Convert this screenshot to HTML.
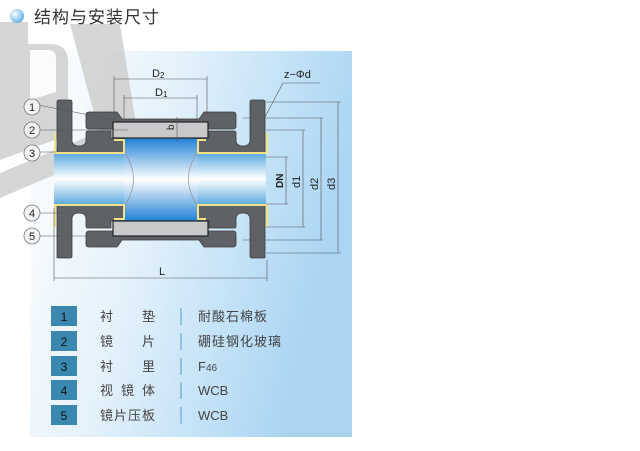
<!DOCTYPE html>
<html><head><meta charset="utf-8"><style>
body{margin:0;width:640px;height:446px;background:#fff;overflow:hidden;font-family:"Liberation Sans","Noto Sans CJK SC",sans-serif}
</style></head><body>
<svg width="640" height="446" viewBox="0 0 640 446" xmlns="http://www.w3.org/2000/svg" font-family="Liberation Sans, Noto Sans CJK SC, sans-serif">
<defs>
<linearGradient id="bg" x1="0" x2="1" y1="0" y2="0.3">
<stop offset="0" stop-color="#ffffff"/><stop offset="0.45" stop-color="#e3f1fb"/><stop offset="1" stop-color="#a9d5f3"/></linearGradient>
<linearGradient id="tube" x1="0" x2="0" y1="0" y2="1">
<stop offset="0" stop-color="#5aa8de"/><stop offset="0.5" stop-color="#ffffff"/><stop offset="1" stop-color="#5aa8de"/></linearGradient>
<linearGradient id="mid" x1="0" x2="0" y1="0" y2="1">
<stop offset="0" stop-color="#1f80d6"/><stop offset="0.5" stop-color="#ffffff"/><stop offset="1" stop-color="#1f80d6"/></linearGradient>
<radialGradient id="ball" cx="0.35" cy="0.35" r="0.7"><stop offset="0" stop-color="#ffffff"/><stop offset="1" stop-color="#5eb0e6"/></radialGradient>
</defs>
<rect x="30" y="51" width="322" height="386" fill="url(#bg)"/>
<!-- watermark -->
<g fill="#cfcfcf" opacity="0.85">
<path d="M70,24 L120,24 L137,130 Q138,142 126,142 L110,142 Q100,142 99,132 Z"/>
<path d="M0,173 L130,119 L136,140 L0,198 Z"/>
<path d="M0,22 L28,22 L28,44 L50,44 Q68,44 68,62 L68,135 L0,160 Z"/>
</g>
<path d="M30,50 L48,50 Q56,50 56,58 L56,92 L30,100 Z" fill="#ffffff" opacity="0.9"/>
<!-- title -->
<circle cx="17" cy="16" r="7" fill="url(#ball)"/>
<text x="34" y="23" font-size="17" fill="#333" letter-spacing="1">结构与安装尺寸</text>

<!-- tube -->
<rect x="54" y="153" width="212" height="52" fill="url(#tube)"/>
<rect x="124" y="138" width="74" height="83" fill="url(#mid)"/>
<path d="M125,153 Q142,179 125,205" fill="none" stroke="#888" stroke-width="0.6"/>
<path d="M197,153 Q180,179 197,205" fill="none" stroke="#888" stroke-width="0.6"/>

<g fill="#5e6166" stroke="#3c3c3c" stroke-width="0.8">
<path d="M57,102 Q57,100 59,100 L70,100 Q72,100 72,102 L72,140 Q72,146 79,146 Q86,146 86,140 L86,133 Q86,131 88,131 L111,131 L111,138 L124,138 L124,153 L57,153 Z"/>
<path d="M57,258 L57,205 L124,205 L124,221 L111,221 L111,228 L88,228 Q86,228 86,226 L86,219 Q86,213 79,213 Q72,213 72,219 L72,256 Q72,258 70,258 L59,258 Q57,258 57,256 Z"/>
<path d="M265,102 Q265,100 263,100 L252,100 Q250,100 250,102 L250,140 Q250,146 243,146 Q236,146 236,140 L236,133 Q236,131 234,131 L209,131 L209,138 L198,138 L198,153 L265,153 Z"/>
<path d="M265,258 L265,205 L198,205 L198,221 L209,221 L209,228 L234,228 Q236,228 236,226 L236,219 Q236,213 243,213 Q250,213 250,219 L250,256 Q250,258 252,258 L263,258 Q265,258 265,256 Z"/>
<path d="M89,112 L117,112 L122,119 L199,119 L204,112 L233,112 Q236,112 236,115 L236,126 Q236,129 233,129 L89,129 Q86,129 86,126 L86,115 Q86,112 89,112 Z"/>
<path d="M89,247 L117,247 L122,240 L199,240 L204,247 L233,247 Q236,247 236,244 L236,234 Q236,231 233,231 L89,231 Q86,231 86,234 L86,244 Q86,247 89,247 Z"/>
</g>
<rect x="113" y="122" width="95" height="16" fill="#c8c9cb" stroke="#222" stroke-width="1.2"/>
<rect x="113" y="221" width="95" height="15" fill="#c8c9cb" stroke="#222" stroke-width="1.2"/>
<g fill="none" stroke="#f2e38a" stroke-width="2">
<path d="M55,133 L55,153 L124,153 L124,140 L114,140"/>
<path d="M267,133 L267,153 L198,153 L198,140 L206,140"/>
<path d="M55,227 L55,205 L124,205 L124,219 L114,219"/>
<path d="M267,227 L267,205 L198,205 L198,219 L206,219"/>
</g>

<g stroke="#555" stroke-width="0.6" fill="none">
<line x1="114" y1="79" x2="207" y2="79"/><line x1="114" y1="76" x2="114" y2="115"/><line x1="207" y1="76" x2="207" y2="115"/>
<line x1="124" y1="98" x2="197" y2="98"/><line x1="124" y1="95" x2="124" y2="120"/><line x1="197" y1="95" x2="197" y2="120"/>
<line x1="177" y1="117" x2="177" y2="142"/>
<line x1="54" y1="278" x2="267" y2="278"/><line x1="54" y1="208" x2="54" y2="281"/><line x1="267" y1="260" x2="267" y2="281"/>
<line x1="266" y1="102" x2="341" y2="102"/><line x1="266" y1="253" x2="341" y2="253"/><line x1="338" y1="102" x2="338" y2="253"/>
<line x1="243" y1="118" x2="323" y2="118"/><line x1="243" y1="240" x2="323" y2="240"/><line x1="321" y1="118" x2="321" y2="240"/>
<line x1="266" y1="130" x2="305" y2="130"/><line x1="266" y1="227" x2="305" y2="227"/><line x1="303" y1="130" x2="303" y2="227"/>
<line x1="266" y1="157" x2="288" y2="157"/><line x1="266" y1="204" x2="288" y2="204"/><line x1="286" y1="157" x2="286" y2="204"/>
<line x1="265" y1="117" x2="283" y2="83"/><line x1="283" y1="83" x2="320" y2="83"/>
<line x1="38" y1="105" x2="120" y2="121"/>
<line x1="38" y1="130" x2="128" y2="130"/>
<line x1="38" y1="152" x2="56" y2="152"/>
<line x1="38" y1="213" x2="66" y2="213"/>
<line x1="38" y1="236" x2="90" y2="236"/>
</g>
<g fill="#222" font-size="11">
<text x="152" y="77">D<tspan font-size="8" dy="1">2</tspan></text>
<text x="155" y="96">D<tspan font-size="8" dy="1">1</tspan></text>
<text x="159" y="275">L</text>
<text x="284" y="78">z−Φd</text>
<text transform="translate(174,130) rotate(-90)" font-size="10">b</text>
<text transform="translate(283,188) rotate(-90)" font-size="10" font-weight="bold">DN</text>
<text transform="translate(300,188) rotate(-90)">d1</text>
<text transform="translate(318,190) rotate(-90)">d2</text>
<text transform="translate(335,190) rotate(-90)">d3</text>
</g>
<g font-size="11" fill="#222" stroke="#777" stroke-width="0.8">
<circle cx="32" cy="107" r="8" fill="#f4f4f4"/><circle cx="32" cy="130" r="8" fill="#f4f4f4"/>
<circle cx="32" cy="153" r="8" fill="#f4f4f4"/><circle cx="32" cy="213" r="8" fill="#f4f4f4"/>
<circle cx="32" cy="236" r="8" fill="#f4f4f4"/>
</g>
<g font-size="11" fill="#222" text-anchor="middle">
<text x="32" y="111">1</text><text x="32" y="134">2</text><text x="32" y="157">3</text><text x="32" y="217">4</text><text x="32" y="240">5</text>
</g>

<g fill="#3a88b0">
<rect x="51" y="306" width="26" height="20"/><rect x="51" y="331" width="26" height="20"/>
<rect x="51" y="356" width="26" height="20"/><rect x="51" y="380" width="26" height="20"/>
<rect x="51" y="405" width="26" height="20"/>
</g>
<g fill="#111" font-size="12" text-anchor="middle">
<text x="64" y="321">1</text><text x="64" y="346">2</text><text x="64" y="371">3</text><text x="64" y="395">4</text><text x="64" y="420">5</text>
</g>
<g stroke="#6aa9cc" stroke-width="1.2">
<line x1="181" y1="308" x2="181" y2="325"/><line x1="181" y1="333" x2="181" y2="350"/>
<line x1="181" y1="358" x2="181" y2="375"/><line x1="181" y1="382" x2="181" y2="399"/>
<line x1="181" y1="407" x2="181" y2="424"/>
</g>
<g fill="#444" font-size="13">
<text x="100" y="321">衬</text><text x="142" y="321">垫</text>
<text x="100" y="346">镜</text><text x="142" y="346">片</text>
<text x="100" y="371">衬</text><text x="142" y="371">里</text>
<text x="100" y="395" letter-spacing="8">视镜体</text>
<text x="100" y="420" letter-spacing="1">镜片压板</text>
<text x="198" y="321" letter-spacing="1">耐酸石棉板</text>
<text x="198" y="346" letter-spacing="1">硼硅钢化玻璃</text>
<text x="198" y="371">F<tspan font-size="10">46</tspan></text>
<text x="198" y="395">WCB</text>
<text x="198" y="420">WCB</text>
</g>
</svg>
</body></html>
